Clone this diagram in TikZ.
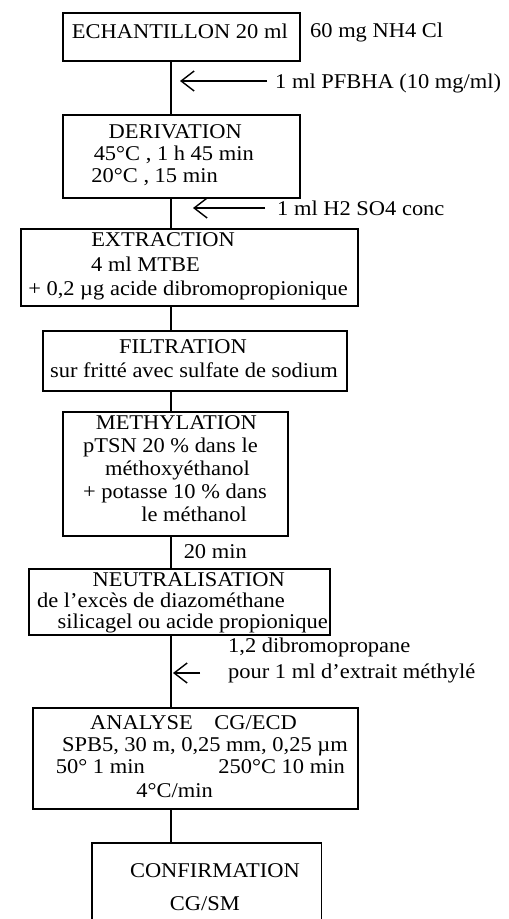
\documentclass[tikz,border=0pt]{standalone}
\usepackage{fontspec}
\setmainfont{Liberation Serif}[FakeStretch=1.07]
\usetikzlibrary{arrows.meta}
\begin{document}
\begin{tikzpicture}[x=1pt,y=-1pt,
  box/.style={draw, line width=1.6pt, inner sep=0pt, anchor=north west},
  openbox/.style={inner sep=0pt, anchor=north west},
  txt/.style={anchor=base west, inner sep=0pt, font=\fontsize{21}{23}\selectfont},
  rtxt/.style={anchor=base east, inner sep=0pt, font=\fontsize{21}{23}\selectfont},
  conn/.style={line width=1.6pt},
  addarrow/.style={line width=1.4pt, -{Straight Barb[length=13pt,width=20pt,line width=1.4pt]}}]
\useasboundingbox (0,0) rectangle (509,919);
\coordinate (tr) at (171,0);

% boxes
\node[box, minimum width=237pt, minimum height=48pt] (b1) at (62,12) {};
\node[box, minimum width=237pt, minimum height=83pt] (b2) at (62,114) {};
\node[box, minimum width=337pt, minimum height=77pt] (b3) at (20,228) {};
\node[box, minimum width=304pt, minimum height=60pt] (b4) at (42,330) {};
\node[box, minimum width=225pt, minimum height=124pt] (b5) at (62,411) {};
\node[box, minimum width=301pt, minimum height=66pt] (b6) at (28,568) {};
\node[box, minimum width=325pt, minimum height=101pt] (b7) at (32,707) {};
\node[openbox, minimum width=229pt, minimum height=80pt] (b8) at (92,843) {};
\draw[conn] (b8.south west) -- (b8.north west) -- (b8.north east) -- (b8.south east);

% texts
\node[rtxt] (t1) at (288,38) {ECHANTILLON 20 ml};
\node[txt] (n1) at (310,37) {60 mg NH4 Cl};

\node[rtxt] (t2a) at (242,138) {DERIVATION};
\node[rtxt] (t2b) at (254,160) {45°C , 1 h 45 min};
\node[rtxt] (t2c) at (218,182) {20°C , 15 min};

\node[rtxt] (t3a) at (235,246) {EXTRACTION};
\node[rtxt] (t3b) at (200,271) {4 ml MTBE};
\node[rtxt] (t3c) at (348,295) {+ 0,2 µg acide dibromopropionique};

\node[rtxt] (t4a) at (247,353) {FILTRATION};
\node[rtxt] (t4b) at (338,377) {sur fritté avec sulfate de sodium};

\node[rtxt] (t5a) at (257,429) {METHYLATION};
\node[rtxt] (t5b) at (258,452) {pTSN 20 \% dans le};
\node[rtxt] (t5c) at (250,475) {méthoxyéthanol};
\node[rtxt] (t5d) at (267,498) {+ potasse 10 \% dans};
\node[rtxt] (t5e) at (247,521) {le méthanol};

\node[rtxt] (m20) at (247,558) {20 min};

\node[rtxt] (t6a) at (285,586) {NEUTRALISATION};
\node[rtxt] (t6b) at (285,607) {de l'excès de diazométhane};
\node[rtxt] (t6c) at (328,628) {silicagel ou acide propionique};

\node[rtxt] (t7a) at (193,729) {ANALYSE};
\node[rtxt] (t7b) at (297,729) {CG/ECD};
\node[rtxt] (t7c) at (348,751) {SPB5, 30 m, 0,25 mm, 0,25 µm};
\node[rtxt] (t7d) at (145,773) {50° 1 min};
\node[rtxt] (t7e) at (345,773) {250°C 10 min};
\node[rtxt] (t7f) at (213,797) {4°C/min};

\node[rtxt] (t8a) at (300,877) {CONFIRMATION};
\node[rtxt] (t8b) at (240,910) {CG/SM};

% trunk connectors
\draw[conn] (b1.south -| tr) -- (b2.north -| tr);
\draw[conn] (b2.south -| tr) -- (b3.north -| tr);
\draw[conn] (b3.south -| tr) -- (b4.north -| tr);
\draw[conn] (b4.south -| tr) -- (b5.north -| tr);
\draw[conn] (b5.south -| tr) -- (b6.north -| tr);
\draw[conn] (b6.south -| tr) -- (b7.north -| tr);
\draw[conn] (b7.south -| tr) -- (b8.north -| tr);

% additions
\coordinate (a1s) at (267,81);
\coordinate (a1e) at (180,81);
\draw[addarrow] (a1s) -- (a1e);
\node[txt] (l1) at (275,88) {1 ml PFBHA (10 mg/ml)};

\coordinate (a2s) at (265,208);
\coordinate (a2e) at (193,208);
\draw[addarrow] (a2s) -- (a2e);
\node[txt] (l2) at (277,215) {1 ml H2 SO4 conc};

\coordinate (a3s) at (200,673);
\coordinate (a3e) at (173,673);
\draw[addarrow] (a3s) -- (a3e);
\node[txt] (l3a) at (228,652) {1,2 dibromopropane};
\node[txt] (l3b) at (228,678) {pour 1 ml d'extrait méthylé};
\end{tikzpicture}
\end{document}
